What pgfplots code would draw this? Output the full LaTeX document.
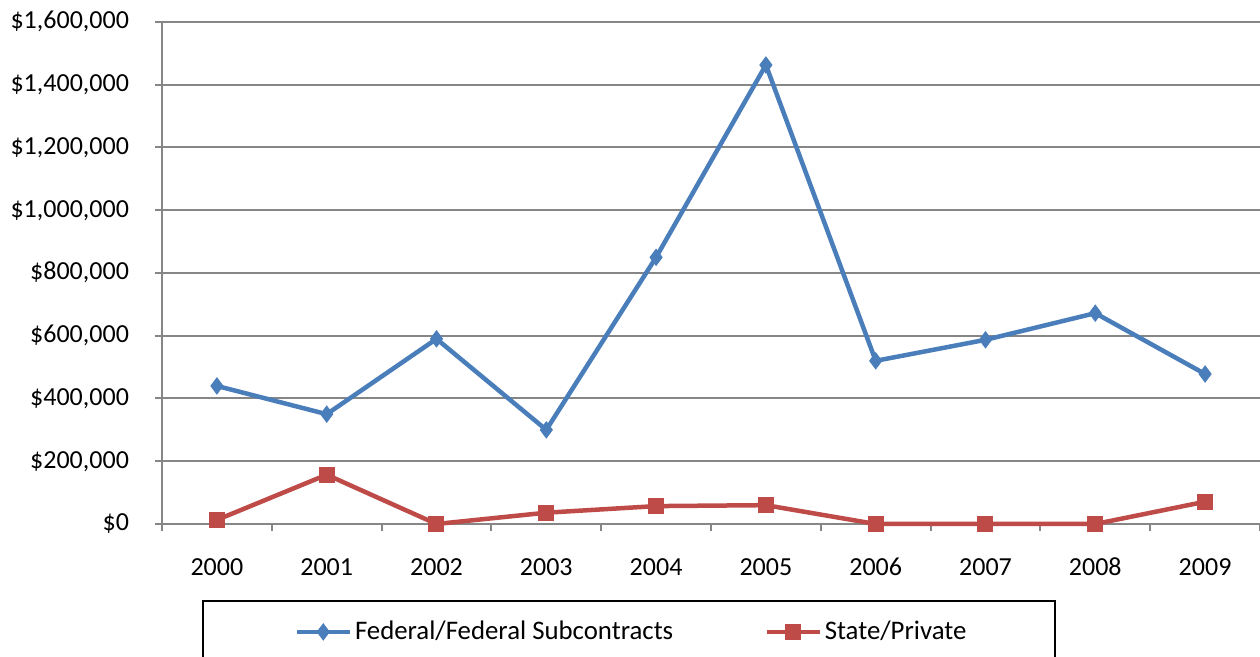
\documentclass[border=0pt]{standalone}
\usepackage{pgfplots}
\pgfplotsset{compat=1.18}
\usepackage{fontspec}
\setmainfont{Carlito}
\definecolor{fedblue}{RGB}{74,126,187}
\definecolor{statered}{RGB}{190,75,72}
\definecolor{gridgray}{RGB}{134,134,134}
\begin{document}
\begin{tikzpicture}
\useasboundingbox (0,0) rectangle (630pt,328.5pt);
\clip (0,0) rectangle (630pt,328.5pt);
\begin{axis}[
  at={(81pt,66.5pt)}, anchor=south west,
  scale only axis, width=549pt, height=251pt,
  xmin=-0.5, xmax=9.5, ymin=0, ymax=1600000,
  axis x line=bottom, axis y line=left,
  axis line style={-, color=gridgray, line width=1pt},
  xtick={-0.5,0.5,...,9.5}, xticklabels={},
  extra x ticks={0,1,2,3,4,5,6,7,8,9},
  extra x tick labels={2000,2001,2002,2003,2004,2005,2006,2007,2008,2009},
  extra x tick style={major tick length=0pt, xticklabel style={anchor=base, yshift=-26pt}},
  ytick={0,200000,...,1600000},
  scaled y ticks=false,
  yticklabel={\$\pgfmathprintnumber[fixed,precision=0,1000 sep={,},assume math mode=true]{\tick}},
  tick align=outside, major tick length=3.5pt,
  tick style={color=gridgray, line width=1pt},
  ymajorgrids, grid style={color=gridgray, line width=1pt},
  tick label style={font=\fontsize{13}{15.6}\selectfont, text=black},
  yticklabel style={xshift=-9.5pt, text height=8.4pt, text depth=1.6pt},
  clip=false,
  legend columns=2,
  legend style={draw=none, fill=none, at={(0.428,-0.215)}, anchor=center,
    font=\fontsize{13.4}{16}\selectfont,
    nodes={inner xsep=1.5pt},
    /tikz/every even column/.append style={column sep=44pt}},
  legend image code/.code={\draw[#1,mark repeat=2,mark phase=2] plot coordinates {(0pt,0pt) (13.25pt,0pt) (26.5pt,0pt)};},
]
\addplot[color=fedblue, line width=2.25pt, mark=diamond*, mark size=4pt,
  mark options={solid, fill=fedblue, draw=fedblue, line width=0.5pt}]
  coordinates {(0,440000) (1,350000) (2,590000) (3,300000) (4,850000)
               (5,1463000) (6,520000) (7,587000) (8,672000) (9,478000)};
\addlegendentry{Federal/Federal Subcontracts}
\addplot[color=statered, line width=2.25pt, mark=square*, mark size=3.75pt,
  mark options={solid, fill=statered, draw=statered, line width=0.5pt}]
  coordinates {(0,13000) (1,157000) (2,0) (3,36000) (4,57000)
               (5,60000) (6,0) (7,0) (8,0) (9,71000)};
\addlegendentry{State/Private}
\end{axis}
\draw[black, line width=0.6pt] (101.5pt,-5pt) rectangle (527.5pt,28pt);
\end{tikzpicture}
\end{document}
